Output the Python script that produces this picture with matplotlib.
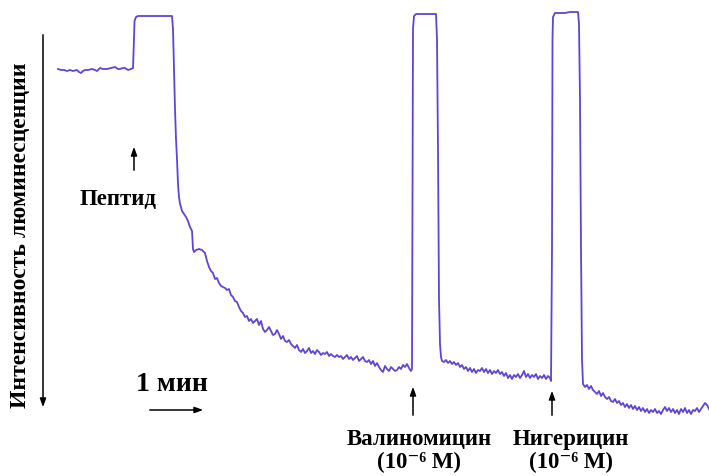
import numpy as np
import matplotlib
matplotlib.use('Agg')
import matplotlib.pyplot as plt
from matplotlib import rcParams

rcParams.update({
    'font.family': ['Liberation Serif', 'DejaVu Serif'], 'font.weight': 'bold',
})

# trace (time and signal in picture units, signal grows downward)
time = [58, 61, 64, 67, 70, 73, 77, 79, 81, 83, 85, 88, 92, 95, 97, 100, 103, 107, 111, 115,
        118, 120, 123, 125, 128, 131, 133,
        134, 134.5, 136, 138, 150, 165, 172, 173, 174, 175, 176, 177, 178, 179, 180, 181, 182,
        184, 186, 188, 190, 192, 193, 194, 196, 199, 202, 205, 207, 209, 211, 213, 215, 217,
        219, 221, 223, 225, 227, 229, 231, 233, 235, 237, 239, 241, 243, 245, 247, 249, 251,
        253, 255, 257, 259, 261, 263, 265, 267, 269, 271, 273, 275, 277, 279, 281, 283, 285,
        287, 289, 291, 293, 295, 297, 299, 301, 303, 305, 307, 309, 311, 313, 315, 317, 319,
        321, 323, 325, 327, 329, 331, 333, 335, 337, 339, 341, 343, 345, 347, 349, 351, 353,
        355, 357, 359, 361, 363, 365, 367, 369, 371, 373, 375, 377, 379, 381, 383, 385, 387,
        389, 391, 393, 395, 397, 399, 401, 403, 405, 407, 409, 411, 412,
        412.5, 413, 414, 416, 425, 436, 437, 438, 439, 440, 441, 442,
        444, 446, 448, 450, 452, 454, 456, 458, 460, 462, 464, 466, 468, 470, 472, 474, 476,
        478, 480, 482, 484, 486, 488, 490, 492, 494, 496, 498, 500, 502, 504, 506, 508, 510,
        512, 514, 516, 518, 520, 522, 524, 526, 528, 530, 532, 534, 536, 538, 540, 542, 544,
        546, 548, 550, 551,
        552, 552.5, 553, 555, 565, 570, 578, 579, 580, 581, 582, 583, 585,
        587, 589, 591, 593, 595, 597, 599, 601, 603, 605, 607, 609, 611, 613, 615, 617, 619,
        621, 623, 625, 627, 629, 631, 633, 635, 637, 639, 641, 643, 645, 647, 649, 651, 653,
        655, 657, 659, 661, 663, 665, 667, 669, 671, 673, 675, 677, 679, 681, 683, 685, 687,
        689, 691, 693, 695, 697, 699, 701, 703, 705, 707, 709]
signal = [70, 71, 71, 72, 71, 72, 71, 73, 74, 72, 71, 71, 70, 71, 72, 69, 70, 70, 69, 68,
          70, 70, 69, 69, 71, 70, 69,
          40, 22, 18, 17, 17, 17, 17, 30, 70, 110, 140, 160, 185, 198, 205, 208, 212,
          215, 218, 222, 228, 232, 250, 253, 251, 250, 251, 254, 262, 268, 272, 274, 280, 279,
          284, 287, 288, 289, 291, 290, 296, 298, 302, 303, 308, 312, 314, 318, 317, 322, 320,
          324, 322, 320, 326, 322, 330, 333, 331, 328, 332, 336, 335, 331, 335, 340, 337, 342,
          343, 341, 345, 347, 349, 346, 351, 353, 350, 354, 352, 349, 354, 352, 355, 351, 353,
          356, 354, 355, 353, 357, 355, 357, 358, 356, 358, 357, 360, 358, 356, 360, 358, 361,
          359, 357, 362, 360, 358, 362, 363, 361, 365, 362, 367, 364, 368, 371, 373, 367, 370,
          372, 368, 370, 372, 371, 368, 370, 366, 368, 365, 369, 372, 370,
          200, 30, 17, 15, 15, 15, 40, 150, 300, 345, 358, 362,
          363, 361, 364, 362, 365, 363, 366, 364, 368, 366, 370, 368, 372, 369, 373, 370, 374,
          371, 372, 369, 373, 370, 374, 371, 375, 372, 374, 371, 375, 373, 377, 374, 379, 376,
          380, 376, 378, 375, 379, 376, 372, 378, 375, 379, 376, 378, 375, 380, 377, 379, 376,
          380, 377, 379, 382,
          250, 40, 18, 14, 14, 13, 13, 25, 100, 250, 360, 385, 388,
          386, 390, 387, 391, 393, 395, 392, 397, 394, 398, 400, 398, 402, 403, 400, 404, 402,
          406, 404, 408, 405, 409, 406, 410, 407, 411, 408, 412, 409, 413, 410, 414, 411, 413,
          410, 414, 412, 415, 411, 408, 412, 409, 413, 410, 414, 411, 415, 410, 413, 409, 414,
          411, 415, 411, 412, 409, 413, 410, 407, 404, 406, 410]

# additions: (label, time of addition)
events = ['Пептид', 'Валиномицин\n(10⁻⁶ М)', 'Нигерицин\n(10⁻⁶ М)']
event_times = [134, 413, 552]

line_color = '#4b2fd8'

fig = plt.figure(figsize=(7.09, 4.77), dpi=100)
ax = fig.add_axes([0, 0, 1, 1])
ax.set_xlim(0, 709)
ax.set_ylim(477, 0)
ax.axis('off')

ax.plot(time, signal, color=line_color, lw=1.3, alpha=0.9)

arr = dict(arrowstyle='-|>,head_length=0.5,head_width=0.18', color='black', lw=1.1)

# intensity axis (pointing down) and time scale bar
ax.annotate('', xy=(43, 411), xytext=(43, 33), arrowprops=arr)
ax.text(21, 235, 'Интенсивность люминесценции', rotation=90, ha='center', va='center',
        fontsize=17)
ax.annotate('', xy=(206, 411), xytext=(147, 411), arrowprops=arr)
ax.text(172, 385, '1 мин', ha='center', va='center', fontsize=20)

# addition markers
ax.annotate('', xy=(event_times[0], 145), xytext=(event_times[0], 174), arrowprops=arr)
ax.text(118, 200, events[0], ha='center', va='center', fontsize=16.5)
ax.annotate('', xy=(event_times[1], 385), xytext=(event_times[1], 419), arrowprops=arr)
ax.text(419, 451, events[1], ha='center', va='center', fontsize=16.5, linespacing=1.12)
ax.annotate('', xy=(event_times[2], 389), xytext=(event_times[2], 419), arrowprops=arr)
ax.text(571, 451, events[2], ha='center', va='center', fontsize=16.5, linespacing=1.12)

fig.savefig('out.png', dpi=100)
